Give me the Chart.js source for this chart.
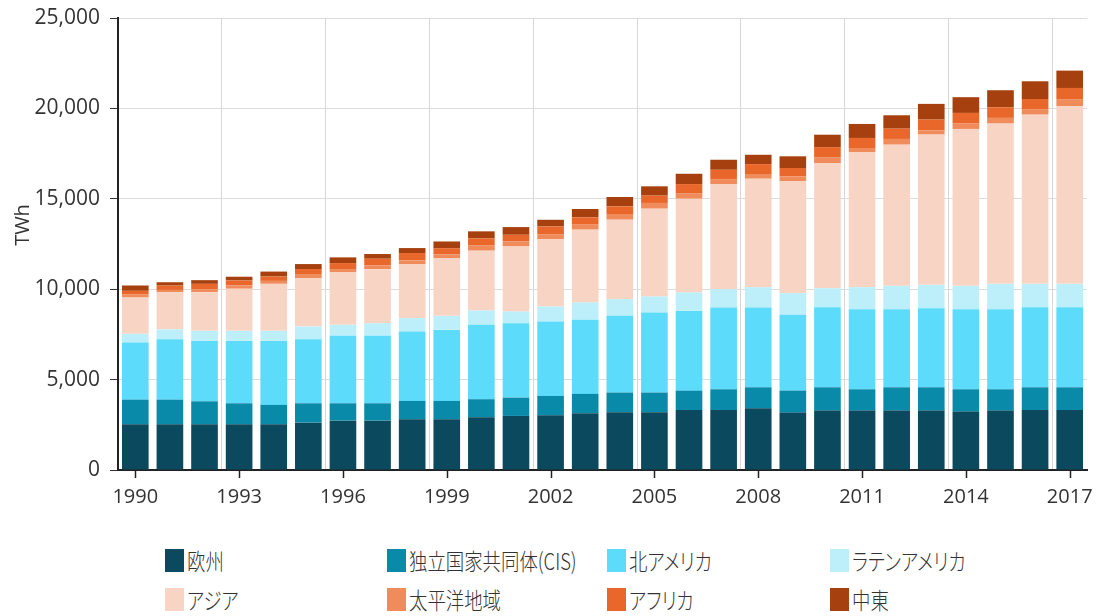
<!DOCTYPE html>
<html lang="ja">
<head>
<meta charset="utf-8">
<title>地域別電力消費量</title>
<script src="https://cdn.jsdelivr.net/npm/chart.js"></script>
<style>
  body { margin: 0; background: #fff; }
  #wrap { position: relative; width: 1098px; height: 616px; }
  #chart { position: absolute; left: 0; top: 0; }
  .legend-item { position: absolute; height: 24px; display: flex; align-items: center; }
  .legend-box { width: 19px; height: 23px; flex: none; }
  .legend-text {
    margin-left: 3px;
    font-family: "Noto Sans CJK JP", sans-serif;
    font-size: 23px;
    font-weight: 300;
    font-feature-settings: "palt";
    color: #333;
    white-space: nowrap;
    transform: scaleX(0.8);
    transform-origin: left center;
  }
</style>
</head>
<body>
<div id="wrap">
  <canvas id="chart" width="1098" height="530"></canvas>
  <div id="legend"></div>
</div>
<script>
const years = [
  "1990", "1991", "1992", "1993", "1994", "1995", "1996", "1997", "1998", "1999",
  "2000", "2001", "2002", "2003", "2004", "2005", "2006", "2007", "2008", "2009",
  "2010", "2011", "2012", "2013", "2014", "2015", "2016", "2017"
];

// TWh per region, bottom of the stack first
const europe = [2530, 2530, 2530, 2530, 2530, 2620, 2730, 2730, 2805, 2805,
  2915, 2990, 3025, 3140, 3195, 3195, 3320, 3320, 3415, 3175,
  3285, 3285, 3285, 3285, 3230, 3285, 3320, 3320];
const cis = [1360, 1360, 1270, 1160, 1070, 1070, 960, 960, 1015, 1015,
  1000, 1015, 1070, 1070, 1090, 1090, 1070, 1145, 1160, 1220,
  1290, 1180, 1290, 1290, 1235, 1180, 1255, 1255];
const northAmerica = [3160, 3340, 3340, 3450, 3540, 3545, 3730, 3730, 3840, 3930,
  4115, 4115, 4115, 4100, 4245, 4430, 4410, 4520, 4410, 4190,
  4430, 4430, 4320, 4375, 4430, 4430, 4430, 4430];
const latinAmerica = [480, 550, 555, 555, 555, 700, 610, 700, 740, 775,
  795, 645, 830, 960, 920, 885, 1015, 1015, 1125, 1200,
  1050, 1220, 1290, 1290, 1290, 1400, 1290, 1290];
const asia = [2010, 2050, 2140, 2330, 2600, 2680, 2900, 2990, 2990, 3195,
  3305, 3600, 3730, 4025, 4395, 4855, 5185, 5815, 6000, 6180,
  6920, 7455, 7810, 8310, 8680, 8865, 9360, 9820];
const pacific = [185, 130, 165, 185, 165, 185, 185, 205, 205, 200,
  280, 275, 275, 275, 315, 315, 315, 275, 220, 280,
  330, 240, 315, 240, 295, 315, 275, 370];
const africa = [185, 240, 295, 275, 240, 315, 330, 370, 405, 350,
  400, 370, 425, 405, 425, 405, 500, 515, 590, 460,
  555, 555, 570, 590, 590, 590, 590, 645];
const middleEast = [295, 185, 205, 205, 275, 275, 315, 260, 275, 370,
  390, 425, 370, 460, 515, 515, 570, 555, 515, 645,
  685, 775, 740, 870, 870, 940, 980, 960];

const yTicks = [0, 5000, 10000, 15000, 20000, 25000];
const unitLabel = "TWh";

const series = [
  { label: "欧州", data: europe, color: "#0b4a5e" },
  { label: "独立国家共同体(CIS)", data: cis, color: "#0a8aa9" },
  { label: "北アメリカ", data: northAmerica, color: "#5cdcfa" },
  { label: "ラテンアメリカ", data: latinAmerica, color: "#bdeffa" },
  { label: "アジア", data: asia, color: "#f8d4c4" },
  { label: "太平洋地域", data: pacific, color: "#f08c5c" },
  { label: "アフリカ", data: africa, color: "#e9672a" },
  { label: "中東", data: middleEast, color: "#a6400e" }
];

// legend grid: 4 columns x 2 rows under the plot
const legendCols = [165, 387, 607, 830];
const legendRows = [548, 587];

Chart.defaults.font.family = "'Open Sans', sans-serif";
Chart.defaults.color = "#333";

// short tick marks under the labelled years, centred on the bars,
// plus the rotated unit label left of the value axis
const axisExtras = {
  id: "axisExtras",
  afterDraw(chart) {
    const x = chart.scales.x;
    const y = chart.scales.y;
    const ctx = chart.ctx;
    ctx.save();
    ctx.strokeStyle = "#222";
    ctx.lineWidth = 1.5;
    years.forEach((yr, i) => {
      if (i % 3) return;
      const px = Math.round(x.getPixelForValue(i)) + 0.5;
      ctx.beginPath();
      ctx.moveTo(px, x.top);
      ctx.lineTo(px, x.top + 8);
      ctx.stroke();
    });
    ctx.translate(y.left + 23, (y.top + y.bottom) / 2 - 19);
    ctx.rotate(-Math.PI / 2);
    ctx.font = "20px 'Open Sans', sans-serif";
    ctx.fillStyle = "#333";
    ctx.textAlign = "center";
    ctx.textBaseline = "middle";
    ctx.fillText(unitLabel, 0, 0);
    ctx.restore();
  }
};

new Chart(document.getElementById("chart"), {
  type: "bar",
  data: {
    labels: years,
    datasets: series.map(s => ({
      label: s.label,
      data: s.data,
      backgroundColor: s.color,
      borderWidth: 0,
      barPercentage: 0.77,
      categoryPercentage: 1
    }))
  },
  options: {
    responsive: false,
    animation: false,
    devicePixelRatio: 1,
    layout: { padding: { top: 18, right: 11, bottom: 20, left: 0 } },
    plugins: {
      legend: { display: false },
      tooltip: { enabled: false }
    },
    scales: {
      x: {
        stacked: true,
        afterFit: s => {
          s.height = 40;
          s.paddingLeft = 0;
          s.paddingRight = 0;
        },
        grid: {
          offset: true,
          drawTicks: false,
          color: c => (c.index % 3 === 0 ? "#d6d6d6" : "rgba(0,0,0,0)")
        },
        border: { color: "#222", width: 2 },
        ticks: {
          autoSkip: false,
          maxRotation: 0,
          padding: 15,
          font: { size: 20 },
          color: "#333",
          callback: (v, i) => (i % 3 === 0 ? years[i] : "")
        }
      },
      y: {
        stacked: true,
        min: yTicks[0],
        max: yTicks[yTicks.length - 1],
        afterFit: s => {
          s.width = 118;
          s.paddingTop = 0;
          s.paddingBottom = 0;
        },
        afterBuildTicks: s => { s.ticks = yTicks.map(v => ({ value: v })); },
        grid: { color: "#dcdcdc", tickColor: "#333", tickLength: 8 },
        border: { color: "#222", width: 2 },
        ticks: {
          padding: 10,
          font: { size: 21 },
          color: "#333",
          callback: v => v.toLocaleString("en-US")
        }
      }
    }
  },
  plugins: [axisExtras]
});

const legend = document.getElementById("legend");
series.forEach((s, i) => {
  const item = document.createElement("div");
  item.className = "legend-item";
  item.style.left = legendCols[i % 4] + "px";
  item.style.top = legendRows[Math.floor(i / 4)] + "px";
  const box = document.createElement("span");
  box.className = "legend-box";
  box.style.background = s.color;
  const text = document.createElement("span");
  text.className = "legend-text";
  text.textContent = s.label;
  item.append(box, text);
  legend.appendChild(item);
});
</script>
</body>
</html>
